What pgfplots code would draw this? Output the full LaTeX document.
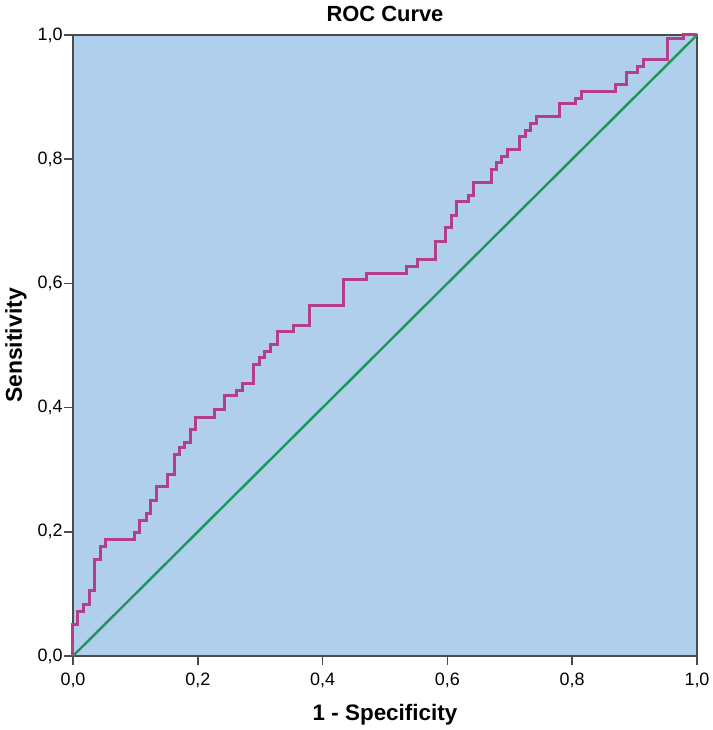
\documentclass[border=0pt]{standalone}
\usepackage{fontspec}
\setmainfont{Liberation Sans}
\usepackage{pgfplots}
\pgfplotsset{compat=1.18}
\definecolor{bgblue}{RGB}{175,207,236}
\definecolor{roc}{RGB}{180,62,135}
\definecolor{diag}{RGB}{30,150,85}
\definecolor{framec}{RGB}{75,75,75}
\begin{document}
\begin{tikzpicture}
\begin{axis}[
  scale only axis, width=624bp, height=621bp,
  xmin=0, xmax=1, ymin=0, ymax=1,
  axis background/.style={fill=bgblue},
  axis line style={draw=framec, line width=1.8bp},
  xtick={0,0.2,0.4,0.6,0.8,1}, ytick={0,0.2,0.4,0.6,0.8,1},
  tick align=outside, tick pos=left,
  major tick length=9bp,
  tick style={draw=framec, line width=1.5bp},
  /pgf/number format/fixed, /pgf/number format/fixed zerofill,
  /pgf/number format/precision=1, /pgf/number format/use comma,
  /pgf/number format/assume math mode=true,
  ticklabel style={font=\fontsize{18}{21}\selectfont},
  xticklabel style={yshift=-4bp},
  yticklabel style={xshift=2bp},
  every axis title shift=0pt,
  title={ROC Curve},
  title style={font=\bfseries\fontsize{22}{26}\selectfont, at={([yshift=13bp]axis description cs:0.5,1)}, anchor=base, inner sep=0pt},
  xlabel={1 - Specificity},
  xlabel style={font=\bfseries\fontsize{22.5}{26}\selectfont, at={([yshift=-64bp]axis description cs:0.5,0)}, anchor=base, inner sep=0pt},
  ylabel={Sensitivity},
  ylabel style={font=\bfseries\fontsize{23}{26}\selectfont, at={([xshift=-57bp]axis description cs:0,0.5)}, anchor=center, inner sep=0pt},
  clip=false,
]
\addplot[diag, line width=2.4bp] coordinates {(0,0) (1,1)};
\addplot[roc, line width=3bp, line join=miter] coordinates {
(0,0) (0,0.051) (0.008,0.051) (0.008,0.072) (0.017,0.072) (0.017,0.083)
(0.026,0.083) (0.026,0.105) (0.035,0.105) (0.035,0.156) (0.044,0.156)
(0.044,0.177) (0.052,0.177) (0.052,0.188) (0.099,0.188) (0.099,0.199)
(0.107,0.199) (0.107,0.219) (0.117,0.219) (0.117,0.230) (0.125,0.230)
(0.125,0.250) (0.134,0.250) (0.134,0.273) (0.152,0.273) (0.152,0.293)
(0.162,0.293) (0.162,0.325) (0.170,0.325) (0.170,0.335) (0.178,0.335)
(0.178,0.344) (0.189,0.344) (0.189,0.364) (0.197,0.364) (0.197,0.384)
(0.226,0.384) (0.226,0.397) (0.243,0.397) (0.243,0.419) (0.262,0.419)
(0.262,0.428) (0.271,0.428) (0.271,0.439) (0.289,0.439) (0.289,0.470)
(0.299,0.470) (0.299,0.481) (0.307,0.481) (0.307,0.490) (0.316,0.490)
(0.316,0.501) (0.327,0.501) (0.327,0.522) (0.354,0.522) (0.354,0.533)
(0.379,0.533) (0.379,0.564) (0.433,0.564) (0.433,0.606) (0.471,0.606)
(0.471,0.616) (0.534,0.616) (0.534,0.627) (0.552,0.627) (0.552,0.638)
(0.581,0.638) (0.581,0.668) (0.597,0.668) (0.597,0.690) (0.606,0.690)
(0.606,0.710) (0.614,0.710) (0.614,0.732) (0.634,0.732) (0.634,0.741)
(0.642,0.741) (0.642,0.762) (0.670,0.762) (0.670,0.784) (0.678,0.784)
(0.678,0.794) (0.687,0.794) (0.687,0.804) (0.696,0.804) (0.696,0.816)
(0.716,0.816) (0.716,0.836) (0.725,0.836) (0.725,0.846) (0.733,0.846)
(0.733,0.858) (0.742,0.858) (0.742,0.868) (0.779,0.868) (0.779,0.889)
(0.805,0.889) (0.805,0.898) (0.815,0.898) (0.815,0.909) (0.869,0.909)
(0.869,0.920) (0.887,0.920) (0.887,0.939) (0.904,0.939) (0.904,0.950)
(0.914,0.950) (0.914,0.961) (0.952,0.961) (0.952,0.994) (0.979,0.994)
(0.979,1.0) (1,1)
};
\end{axis}
\path (-73bp,-74bp) rectangle (636bp,656bp);
\end{tikzpicture}
\end{document}
